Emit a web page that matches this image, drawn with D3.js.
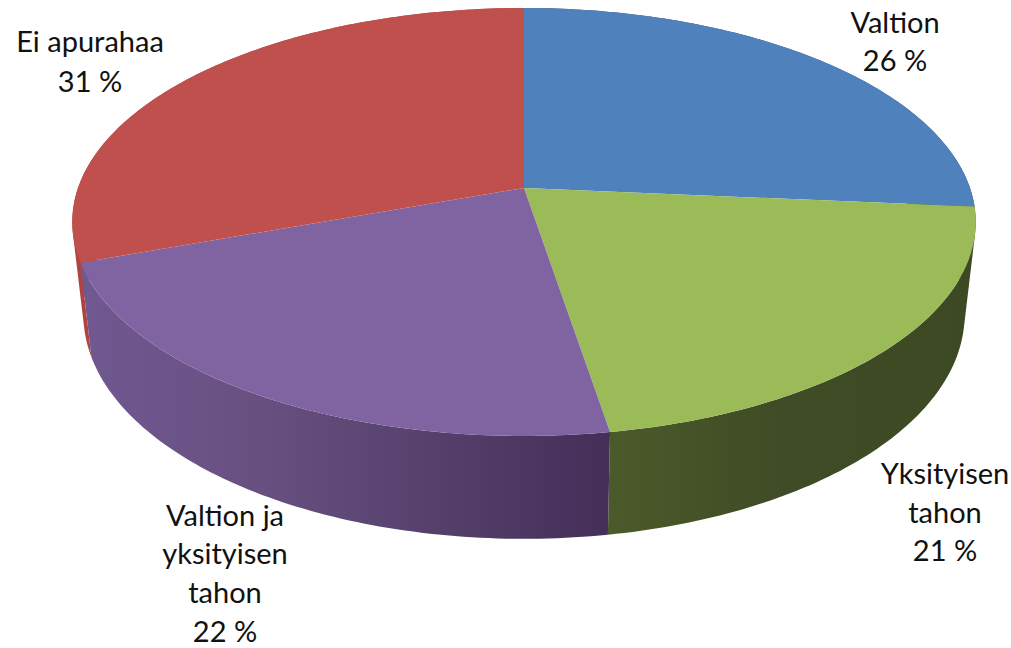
<!DOCTYPE html>
<html>
<head>
<meta charset="utf-8">
<title>Apurahat</title>
<style>
body { margin: 0; background: #fff; }
svg { display: block; }
text { font-family: Lato, "Noto Sans", sans-serif; font-size: 29px; fill: #111; text-anchor: middle; }
</style>
<script src="https://d3js.org/d3.v7.min.js"></script>
</head>
<body>
<script>
// values, clockwise from 12 o'clock
var categories = ["Valtion", "Yksityisen tahon", "Valtion ja yksityisen tahon", "Ei apurahaa"];
var values = [26.4, 21.0, 22.1, 30.5];
var topColors = ["#4F81BD", "#9BBB59", "#8064A2", "#C0504D"];
var wallColors = [
  [[0, "#2f4d72"], [1, "#2f4d72"]],
  [[0, "#4b5a2a"], [0.45, "#404c25"], [1, "#3d4923"]],
  [[0, "#705891"], [0.35, "#67507f"], [1, "#432f58"]],
  [[0, "#b0433f"], [1, "#b0433f"]]
];
var labelLines = [["Valtion"], ["Yksityisen", "tahon"], ["Valtion ja", "yksityisen", "tahon"], ["Ei apurahaa"]];

var width = 1011, height = 648;

// label layout: centre x, first baseline
var labelPos = [[895, 33], [945, 484], [225, 525.5], [90, 52]];
var lineStep = [38, 38.5, 38.8, 40];

var svg = d3.select("body").append("svg")
    .attr("width", width)
    .attr("height", height);

// the disc seen in perspective: cos(angle) runs from front (-1) to back (1)
var cx = 524, persp = 0.1589;
function project(a, disc) {
  var c = Math.cos(a), s = Math.sin(a), den = 1 + persp * c;
  return [cx + disc.ax * s / den, (disc.ay * c + disc.y0) / den];
}
var topDisc = { ax: 446, ay: -178.7, y0: 188 };
var baseDisc = { ax: 435, ay: -174.2, y0: 279 };

var pie = d3.pie().sort(null)(values);
var line = d3.line();

function arcAngles(d) {
  var n = Math.ceil((d.endAngle - d.startAngle) * 60);
  return d3.range(n + 1).map(function(i) {
    return d.startAngle + (d.endAngle - d.startAngle) * i / n;
  });
}

var defs = svg.append("defs");
wallColors.forEach(function(stops, i) {
  var xs = arcAngles(pie[i]).map(function(a) { return project(a, topDisc)[0]; });
  var g = defs.append("linearGradient")
      .attr("id", "wall" + i)
      .attr("gradientUnits", "userSpaceOnUse")
      .attr("x1", d3.min(xs)).attr("x2", d3.max(xs))
      .attr("y1", 0).attr("y2", 0);
  stops.forEach(function(st) {
    g.append("stop").attr("offset", st[0]).attr("stop-color", st[1]);
  });
});

// one wall = many quads in a single path, all wound the same way so they fill as a union.
// that gives the cylinder its straight tangent edge at the far left and right
function wallPath(d) {
  return d3.pairs(arcAngles(d)).map(function(p) {
    var quad = [project(p[0], topDisc), project(p[1], topDisc),
                project(p[1], baseDisc), project(p[0], baseDisc)];
    if (d3.polygonArea(quad) < 0) quad.reverse();
    return line(quad) + "Z";
  }).join("");
}

// walls first, back ones before front ones
svg.append("g").selectAll("path")
    .data([3, 0, 1, 2])
  .enter().append("path")
    .attr("d", function(i) { return wallPath(pie[i]); })
    .attr("fill", function(i) { return "url(#wall" + i + ")"; });

// top faces
svg.append("g").selectAll("path")
    .data(pie)
  .enter().append("path")
    .attr("d", function(d) {
      return line([[cx, topDisc.y0]].concat(arcAngles(d).map(function(a) { return project(a, topDisc); }))) + "Z";
    })
    .attr("fill", function(d, i) { return topColors[i]; });

// labels
var labels = svg.append("g").selectAll("text")
    .data(pie)
  .enter().append("text")
    .attr("transform", function(d, i) { return "translate(" + labelPos[i] + ")"; });

labels.selectAll("tspan")
    .data(function(d, i) {
      return labelLines[i].concat(Math.round(d.value) + " %").map(function(t, k) {
        return { t: t, y: k * lineStep[i] };
      });
    })
  .enter().append("tspan")
    .attr("x", 0)
    .attr("y", function(d) { return d.y; })
    .text(function(d) { return d.t; });
</script>
</body>
</html>
